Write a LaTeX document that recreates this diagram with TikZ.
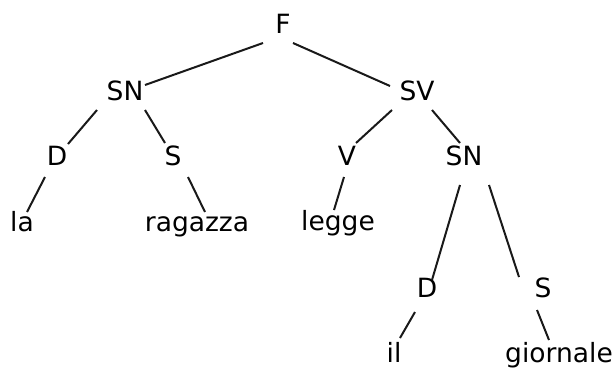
\documentclass[tikz,border=0pt]{standalone}
\usepackage{fontspec}
\setmainfont{DejaVu Sans}
\usetikzlibrary{calc}
\begin{document}
\begin{tikzpicture}[x=1pt,y=-1pt,
  lbl/.style={anchor=base,inner sep=0pt,font=\fontsize{26.5}{30}\selectfont},
  branch/.style={line width=2pt,black!90}]
\useasboundingbox (0,0) rectangle (616,367);
% constituent labels and words
\node[lbl] (F)    at (283,33)  {F};
\node[lbl] (SNl)  at (125,100) {SN};
\node[lbl] (SV)   at (417,100) {SV};
\node[lbl] (Dl)   at (57,165)  {D};
\node[lbl] (Sl)   at (173,165) {S};
\node[lbl] (V)    at (347,165) {V};
\node[lbl] (SNr)  at (464,165) {SN};
\node[lbl] (la)   at (22,231)  {la};
\node[lbl] (rag)  at (197,231) {ragazza};
\node[lbl] (leg)  at (338,230) {legge};
\node[lbl] (Dr)   at (427,297) {D};
\node[lbl] (Sr)   at (543,297) {S};
\node[lbl] (il)   at (394,362) {il};
\node[lbl] (gio)  at (559,362) {giornale};
% branches of the tree
\draw[branch] ($(F.base)+(-20,10)$)   -- ($(SNl.base)+(20,-15)$);
\draw[branch] ($(F.base)+(10,10)$)    -- ($(SV.base)+(-27,-14)$);
\draw[branch] ($(SNl.base)+(-28,10)$) -- ($(Dl.base)+(11,-21)$);
\draw[branch] ($(SNl.base)+(20,10)$)  -- ($(Sl.base)+(-8,-22)$);
\draw[branch] ($(Dl.base)+(-12,12)$)  -- ($(la.base)+(5,-19)$);
\draw[branch] ($(Sl.base)+(15,12)$)   -- ($(rag.base)+(8,-19)$);
\draw[branch] ($(SV.base)+(-25,10)$)  -- ($(V.base)+(9,-22)$);
\draw[branch] ($(SV.base)+(15,10)$)   -- ($(SNr.base)+(-4,-22)$);
\draw[branch] ($(V.base)+(-3,12)$)    -- ($(leg.base)+(-4,-20)$);
\draw[branch] ($(SNr.base)+(-4,20)$)  -- ($(Dr.base)+(5,-17)$);
\draw[branch] ($(SNr.base)+(25,20)$)  -- ($(Sr.base)+(-24,-20)$);
\draw[branch] ($(Dr.base)+(-12,15)$)  -- ($(il.base)+(6,-24)$);
\draw[branch] ($(Sr.base)+(-6,13)$)   -- ($(gio.base)+(-10,-22)$);
\end{tikzpicture}
\end{document}
